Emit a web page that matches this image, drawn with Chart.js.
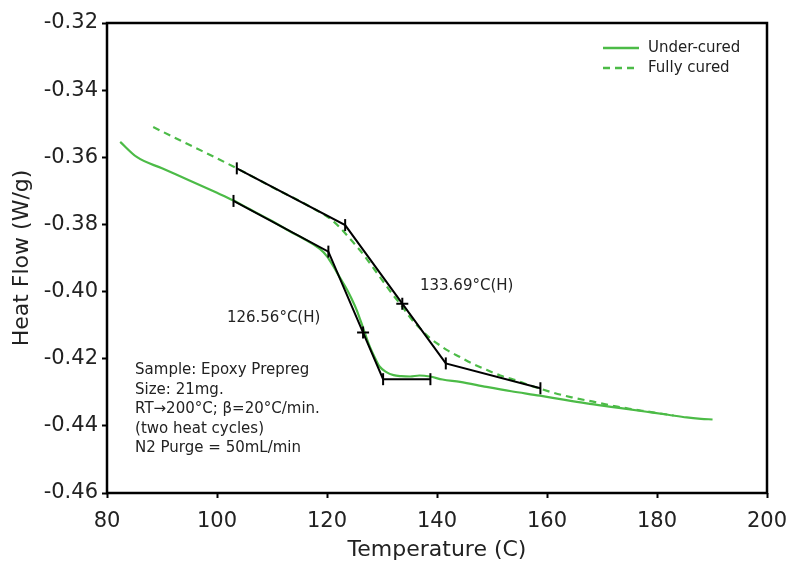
<!DOCTYPE html>
<html>
<head>
<meta charset="utf-8">
<script src="https://cdn.jsdelivr.net/npm/chart.js@4.4.1/dist/chart.umd.min.js"></script>
<style>
  html, body { margin: 0; padding: 0; background: #ffffff; }
  #wrap { width: 790px; height: 572px; }
</style>
</head>
<body>
<div id="wrap"><canvas id="dsc" width="790" height="572"></canvas></div>
<script>
// DSC heat flow of an epoxy prepreg, first (under-cured) and second (fully cured) heat
const underTemp = [82.4, 85.4, 90, 95, 100, 103, 106, 110, 113.3, 116, 118.7, 120, 121.2, 122.4, 123.6, 124.5,
  125.4, 126.6, 127.8, 128.8, 129.6, 130.8, 132.1, 133.5, 135.1, 136.8, 138.7, 141, 144.2, 149, 153.5, 158.7,
  163, 167.2, 172, 178.1, 182, 185.4, 188, 190.1];
const underFlow = [-0.3554, -0.3599, -0.3633, -0.3669, -0.3706, -0.3729, -0.3755, -0.3790, -0.3821, -0.3845,
  -0.3873, -0.3895, -0.3926, -0.3960, -0.3993, -0.4022, -0.4055, -0.4110, -0.4165, -0.4200, -0.4224, -0.4240,
  -0.4249, -0.4252, -0.4253, -0.4250, -0.4253, -0.4262, -0.4269, -0.4284, -0.4297, -0.4310, -0.4322, -0.4333,
  -0.4344, -0.4358, -0.4367, -0.4375, -0.4379, -0.4381];

const fullTemp = [88.4, 92, 96, 100, 103.6, 107, 111, 115, 118, 120.5, 122.4, 124.2, 126, 128, 130, 132, 133.7,
  135.1, 136.8, 138.7, 140.5, 142, 144.2, 146.5, 149, 151.5, 153.9, 157, 161.1, 164.5, 168.4, 172, 175, 178.1,
  180.5, 183];
const fullFlow = [-0.3510, -0.3539, -0.3571, -0.3603, -0.3633, -0.3662, -0.3697, -0.3730, -0.3757, -0.3782,
  -0.3810, -0.3843, -0.3877, -0.3920, -0.3965, -0.4010, -0.4045, -0.4077, -0.4108, -0.4138, -0.4160, -0.4176,
  -0.4195, -0.4215, -0.4233, -0.4250, -0.4262, -0.4280, -0.4301, -0.4315, -0.4328, -0.4340, -0.4349, -0.4357,
  -0.4363, -0.4369];

// Glass transition construction: onset tangent, midpoint (H), end tangent
const underTgTemp = [103.0, 120.25, 126.56, 130.2, 138.8];
const underTgFlow = [-0.3730, -0.3881, -0.4122, -0.4261, -0.4261];
const fullTgTemp = [103.6, 123.3, 133.69, 141.6, 158.8];
const fullTgFlow = [-0.3633, -0.3802, -0.4036, -0.4214, -0.4288];
const tgMarkers = ['line', 'line', 'cross', 'line', 'line'];
const tgRotation = [90, 90, 0, 90, 90];

const seriesNames = ['Under-cured', 'Fully cured'];
const tgLabels = ['126.56°C(H)', '133.69°C(H)'];
const sampleNotes = ['Sample: Epoxy Prepreg', 'Size: 21mg.', 'RT\u2192200°C; β=20°C/min.',
  '(two heat cycles)', 'N2 Purge = 50mL/min'];

const xTicks = [80, 100, 120, 140, 160, 180, 200];
const yTicks = [-0.46, -0.44, -0.42, -0.40, -0.38, -0.36, -0.34, -0.32];

const GREEN = '#4cbb47';
const FONT = '"DejaVu Sans", "Liberation Sans", sans-serif';
const toPoints = (xs, ys) => xs.map((x, i) => ({ x: x, y: ys[i] }));

const framePlugin = {
  id: 'frame',
  afterDatasetsDraw(chart) {
    const { ctx, chartArea: a } = chart;
    ctx.save();
    ctx.strokeStyle = '#000';
    ctx.lineWidth = 2.5;
    ctx.strokeRect(a.left, a.top, a.right - a.left, a.bottom - a.top);
    ctx.restore();
  }
};

const notesPlugin = {
  id: 'notes',
  afterDraw(chart) {
    const { ctx, scales: { x, y } } = chart;
    ctx.save();
    ctx.fillStyle = '#222';
    ctx.textBaseline = 'middle';
    ctx.textAlign = 'left';
    ctx.font = '15px ' + FONT;
    ctx.fillText(tgLabels[0], x.getPixelForValue(101.8), y.getPixelForValue(-0.4079));
    ctx.fillText(tgLabels[1], x.getPixelForValue(136.9), y.getPixelForValue(-0.3984));
    const left = x.getPixelForValue(85.1);
    const top = y.getPixelForValue(-0.4235);
    sampleNotes.forEach((line, i) => ctx.fillText(line, left, top + i * 19.5));

    // legend
    const lx = 603, ly = 48, gap = 20;
    [0, 1].forEach(i => {
      const ds = chart.data.datasets[i];
      ctx.strokeStyle = ds.borderColor;
      ctx.lineWidth = 2.5;
      ctx.setLineDash(ds.borderDash || []);
      ctx.beginPath();
      ctx.moveTo(lx, ly + i * gap);
      ctx.lineTo(lx + 36, ly + i * gap);
      ctx.stroke();
      ctx.setLineDash([]);
      ctx.fillStyle = '#222';
      ctx.fillText(ds.label, lx + 45, ly + i * gap);
    });
    ctx.restore();
  }
};

new Chart(document.getElementById('dsc'), {
  type: 'line',
  data: {
    datasets: [
      { label: seriesNames[0], data: toPoints(underTemp, underFlow), borderColor: GREEN, borderWidth: 2.2,
        pointRadius: 0, cubicInterpolationMode: 'monotone', order: 3 },
      { label: seriesNames[1], data: toPoints(fullTemp, fullFlow), borderColor: GREEN, borderWidth: 2.2,
        borderDash: [7, 5], pointRadius: 0, cubicInterpolationMode: 'monotone', order: 2 },
      { label: 'Tg ' + seriesNames[0], data: toPoints(underTgTemp, underTgFlow), borderColor: '#000',
        borderWidth: 2, tension: 0, pointStyle: tgMarkers, rotation: tgRotation, pointRadius: 6,
        pointBorderColor: '#000', pointBorderWidth: 2, pointBackgroundColor: '#000', order: 1 },
      { label: 'Tg ' + seriesNames[1], data: toPoints(fullTgTemp, fullTgFlow), borderColor: '#000',
        borderWidth: 2, tension: 0, pointStyle: tgMarkers, rotation: tgRotation, pointRadius: 6,
        pointBorderColor: '#000', pointBorderWidth: 2, pointBackgroundColor: '#000', order: 0 }
    ]
  },
  options: {
    responsive: false,
    animation: false,
    devicePixelRatio: 1,
    layout: { padding: { top: 23, right: 23, left: 0, bottom: 0 } },
    plugins: { legend: { display: false }, tooltip: { enabled: false }, title: { display: false } },
    scales: {
      x: {
        type: 'linear', min: 80, max: 200,
        afterBuildTicks: s => { s.ticks = xTicks.map(v => ({ value: v })); },
        afterFit: s => { s.height = 79; s.paddingLeft = 0; s.paddingRight = 0; },
        grid: { drawOnChartArea: false, drawTicks: true, tickLength: 5, tickWidth: 2, tickColor: '#000' },
        border: { display: false },
        ticks: { color: '#222', font: { family: FONT, size: 21 }, padding: 11, maxRotation: 0 },
        title: { display: true, text: 'Temperature (C)', color: '#222', font: { family: FONT, size: 22 },
          padding: { top: 0, bottom: 9 } }
      },
      y: {
        type: 'linear', min: -0.46, max: -0.32,
        afterBuildTicks: s => { s.ticks = yTicks.map(v => ({ value: v })); },
        afterFit: s => { s.width = 107; s.paddingTop = 0; s.paddingBottom = 0; },
        grid: { drawOnChartArea: false, drawTicks: true, tickLength: 5, tickWidth: 2, tickColor: '#000' },
        border: { display: false },
        ticks: { color: '#222', font: { family: FONT, size: 21 }, padding: 4,
          callback: v => v.toFixed(2) },
        title: { display: true, text: 'Heat Flow (W/g)', color: '#222', font: { family: FONT, size: 22 },
          padding: { top: 9, bottom: 0 } }
      }
    }
  },
  plugins: [framePlugin, notesPlugin]
});
</script>
</body>
</html>
